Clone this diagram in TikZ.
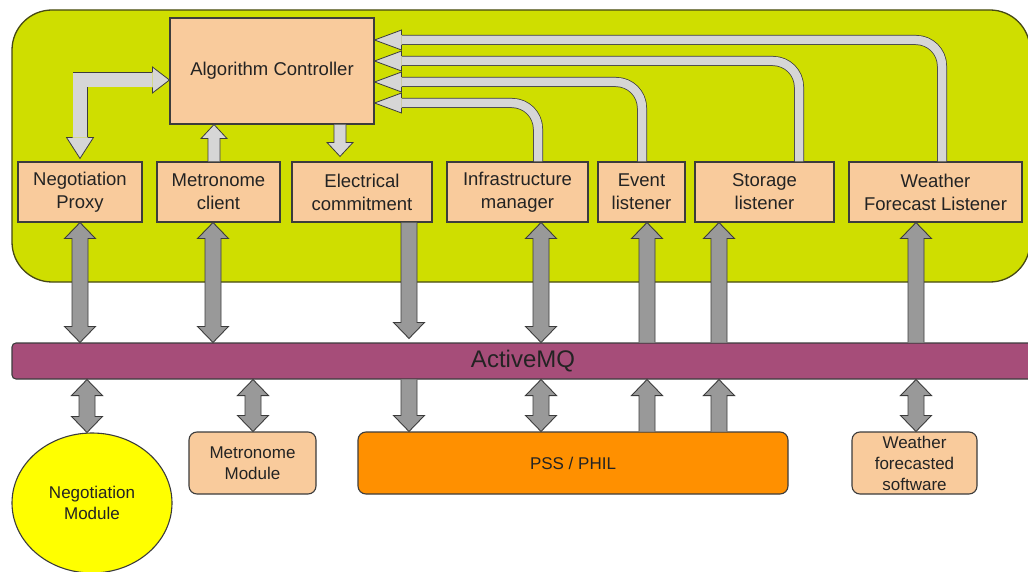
\documentclass[tikz,border=0pt]{standalone}
\usepackage{fontspec}
\setmainfont{Liberation Sans}
\usetikzlibrary{calc,shapes.geometric}
\definecolor{grn}{RGB}{207,222,0}
\definecolor{grnline}{RGB}{70,72,20}
\definecolor{peach}{RGB}{249,203,156}
\definecolor{mq}{RGB}{166,77,121}
\definecolor{org}{RGB}{255,144,0}
\definecolor{yel}{RGB}{255,255,0}
\definecolor{adark}{RGB}{153,153,153}
\definecolor{alight}{RGB}{214,214,214}
\definecolor{lineC}{RGB}{60,60,60}
\definecolor{txt}{RGB}{35,35,35}
\newcommand\ArS{8pt}\newcommand\ArH{15.5pt}\newcommand\ArL{16pt}
% double vertical arrow: #2 top tip, #3 bottom tip
\newcommand\vdbl[3][fatdark]{\path[#1] let \p1=(#2), \p2=(#3) in
  (\x1,\y1) -- (\x1+\ArH,\y1-\ArL) -- (\x1+\ArS,\y1-\ArL) -- (\x1+\ArS,\y2+\ArL) -- (\x1+\ArH,\y2+\ArL) -- (\x1,\y2)
  -- (\x1-\ArH,\y2+\ArL) -- (\x1-\ArS,\y2+\ArL) -- (\x1-\ArS,\y1-\ArL) -- (\x1-\ArH,\y1-\ArL) -- cycle;}
% down arrow: #2 tail (top), #3 tip (bottom)
\newcommand\vdown[3][fatdark]{\path[#1] let \p1=(#2), \p2=(#3) in
  (\x1-\ArS,\y1) -- (\x1-\ArS,\y2+\ArL) -- (\x1-\ArH,\y2+\ArL) -- (\x1,\y2) -- (\x1+\ArH,\y2+\ArL) -- (\x1+\ArS,\y2+\ArL) -- (\x1+\ArS,\y1);}
% up arrow: #2 tail (bottom), #3 tip (top)
\newcommand\vup[3][fatdark]{\path[#1] let \p1=(#2), \p2=(#3) in
  (\x1-\ArS,\y1) -- (\x1-\ArS,\y2-\ArL) -- (\x1-\ArH,\y2-\ArL) -- (\x1,\y2) -- (\x1+\ArH,\y2-\ArL) -- (\x1+\ArS,\y2-\ArL) -- (\x1+\ArS,\y1);}
% heads: #1 tip, #2 length, #3 half head width, #4 half shaft width
\newcommand\headL[4]{\path[fatlight] let \p1=(#1) in (\x1+#2,\y1+#4) -- (\x1+#2,\y1+#3) -- (\x1,\y1) -- (\x1+#2,\y1-#3) -- (\x1+#2,\y1-#4);}
\newcommand\headR[4]{\path[fatlight] let \p1=(#1) in (\x1-#2,\y1+#4) -- (\x1-#2,\y1+#3) -- (\x1,\y1) -- (\x1-#2,\y1-#3) -- (\x1-#2,\y1-#4);}
\newcommand\headD[4]{\path[fatlight] let \p1=(#1) in (\x1-#4,\y1+#2) -- (\x1-#3,\y1+#2) -- (\x1,\y1) -- (\x1+#3,\y1+#2) -- (\x1+#4,\y1+#2);}
\begin{document}
\begin{tikzpicture}[x=1pt,y=-1pt,
  box/.style={draw=lineC, fill=peach, line width=1.1pt, inner sep=0pt, align=center, text=txt, font=\fontsize{18.5}{23}\selectfont},
  rowbox/.style={box, minimum height=60},
  modbox/.style={box, rounded corners=8pt, font=\fontsize{17}{21}\selectfont, minimum height=62},
  fatdark/.style={fill=adark, draw=lineC, line width=0.9pt, line join=miter},
  fatlight/.style={fill=alight, draw=lineC, line width=0.8pt, line join=miter},
  lshaft/.style={draw=lineC, line width=0.75pt, double=alight, line join=miter},
]
\useasboundingbox (0,0) rectangle (1028,572);
\fill[white] (0,0) rectangle (1028,572);
% container
\draw[fill=grn, draw=grnline, line width=1.3pt, rounded corners=40pt] (12,10) rectangle (1030,282);
% nodes
\node[box, minimum width=204, minimum height=106] (ac) at (272,71) {Algorithm Controller};
\node[rowbox, minimum width=124] (np) at (80,192) {Negotiation\\Proxy};
\node[rowbox, minimum width=123] (mc) at (218.5,192) {Metronome\\client};
\node[rowbox, minimum width=140] (ec) at (362,192) {Electrical\\commitment};
\node[rowbox, minimum width=141] (im) at (517.5,192) {Infrastructure\\manager};
\node[rowbox, minimum width=87] (el) at (641.5,192) {Event\\listener};
\node[rowbox, minimum width=139] (sl) at (764.5,192) {Storage\\listener};
\node[rowbox, minimum width=173] (wf) at (935.5,192) {Weather\\Forecast Listener};
\node[draw=lineC, fill=mq, line width=1.1pt, rounded corners=4pt, minimum width=1022, minimum height=36, inner sep=0pt,
  font=\fontsize{24}{28}\selectfont, text=txt] (amq) at (523,361) {ActiveMQ};
\node[draw=lineC, fill=yel, ellipse, line width=1.1pt, minimum width=160, minimum height=140, inner sep=0pt, align=center,
  text=txt, font=\fontsize{17}{21}\selectfont] (nm) at (92,503) {Negotiation\\Module};
\node[modbox, minimum width=127] (mm) at (252.5,463) {Metronome\\Module};
\node[modbox, fill=org, minimum width=430] (pss) at (573,463) {PSS / PHIL};
\node[modbox, minimum width=125] (wfs) at (914.5,463) {Weather\\forecasted\\software};
% x positions and y levels
\foreach \x in {80,87,213,214,253,340,409,538,541,642,647,719,799,916,942} \coordinate (c\x) at (\x,0);
\coordinate (h0) at (0,80);
\coordinate (h1) at (0,40);
\coordinate (h2) at (0,61);
\coordinate (h3) at (0,82);
\coordinate (h4) at (0,103);
% dark arrows above bar
\vdbl{c80 |- np.south}{c80 |- amq.north}
\vdbl{c213 |- mc.south}{c213 |- amq.north}
\vdown{c409 |- ec.south}{$(c409 |- amq.north)+(0,-4)$}
\vdbl{c541 |- im.south}{c541 |- amq.north}
\vup{c647 |- amq.north}{c647 |- el.south}
\vup{c719 |- amq.north}{c719 |- sl.south}
\vup{c916 |- amq.north}{c916 |- wf.south}
% dark arrows below bar
\vdbl{c87 |- amq.south}{c87 |- nm.north}
\vdbl{c253 |- amq.south}{c253 |- mm.north}
\vdown{c409 |- amq.south}{c409 |- pss.north}
\vdbl{c541 |- amq.south}{c541 |- pss.north}
\vup{c647 |- pss.north}{c647 |- amq.south}
\vup{c719 |- pss.north}{c719 |- amq.south}
\vdbl{c916 |- amq.south}{c916 |- wfs.north}
% light arrows
\begin{scope}
\renewcommand\ArS{6pt}\renewcommand\ArH{13pt}\renewcommand\ArL{14pt}
\vup[fatlight]{c214 |- mc.north}{c214 |- ac.south}
\vdown[fatlight]{c340 |- ac.south}{$(c340 |- ec.north)+(0,-5)$}
\end{scope}
% Negotiation proxy <-> algorithm controller
\draw[lshaft, double distance=13.5pt] ($(c80 |- np.north)+(0,-24)$) -- (c80 |- h0) -- ($(ac.west |- h0)+(-17,0)$);
\headD{$(c80 |- np.north)+(0,-3)$}{21pt}{13.5pt}{7.5pt}
\headR{ac.west |- h0}{17pt}{13pt}{7.5pt}
% listeners -> algorithm controller
\draw[lshaft, double distance=8.5pt, rounded corners=26pt] (c942 |- wf.north) -- (c942 |- h1) -- ($(ac.east |- h1)+(27,0)$);
\headL{ac.east |- h1}{27pt}{10pt}{5pt}
\draw[lshaft, double distance=8.5pt, rounded corners=26pt] (c799 |- sl.north) -- (c799 |- h2) -- ($(ac.east |- h2)+(27,0)$);
\headL{ac.east |- h2}{27pt}{10pt}{5pt}
\draw[lshaft, double distance=8.5pt, rounded corners=26pt] (c642 |- el.north) -- (c642 |- h3) -- ($(ac.east |- h3)+(27,0)$);
\headL{ac.east |- h3}{27pt}{10pt}{5pt}
\draw[lshaft, double distance=8.5pt, rounded corners=26pt] (c538 |- im.north) -- (c538 |- h4) -- ($(ac.east |- h4)+(27,0)$);
\headL{ac.east |- h4}{27pt}{10pt}{5pt}
\end{tikzpicture}
\end{document}
